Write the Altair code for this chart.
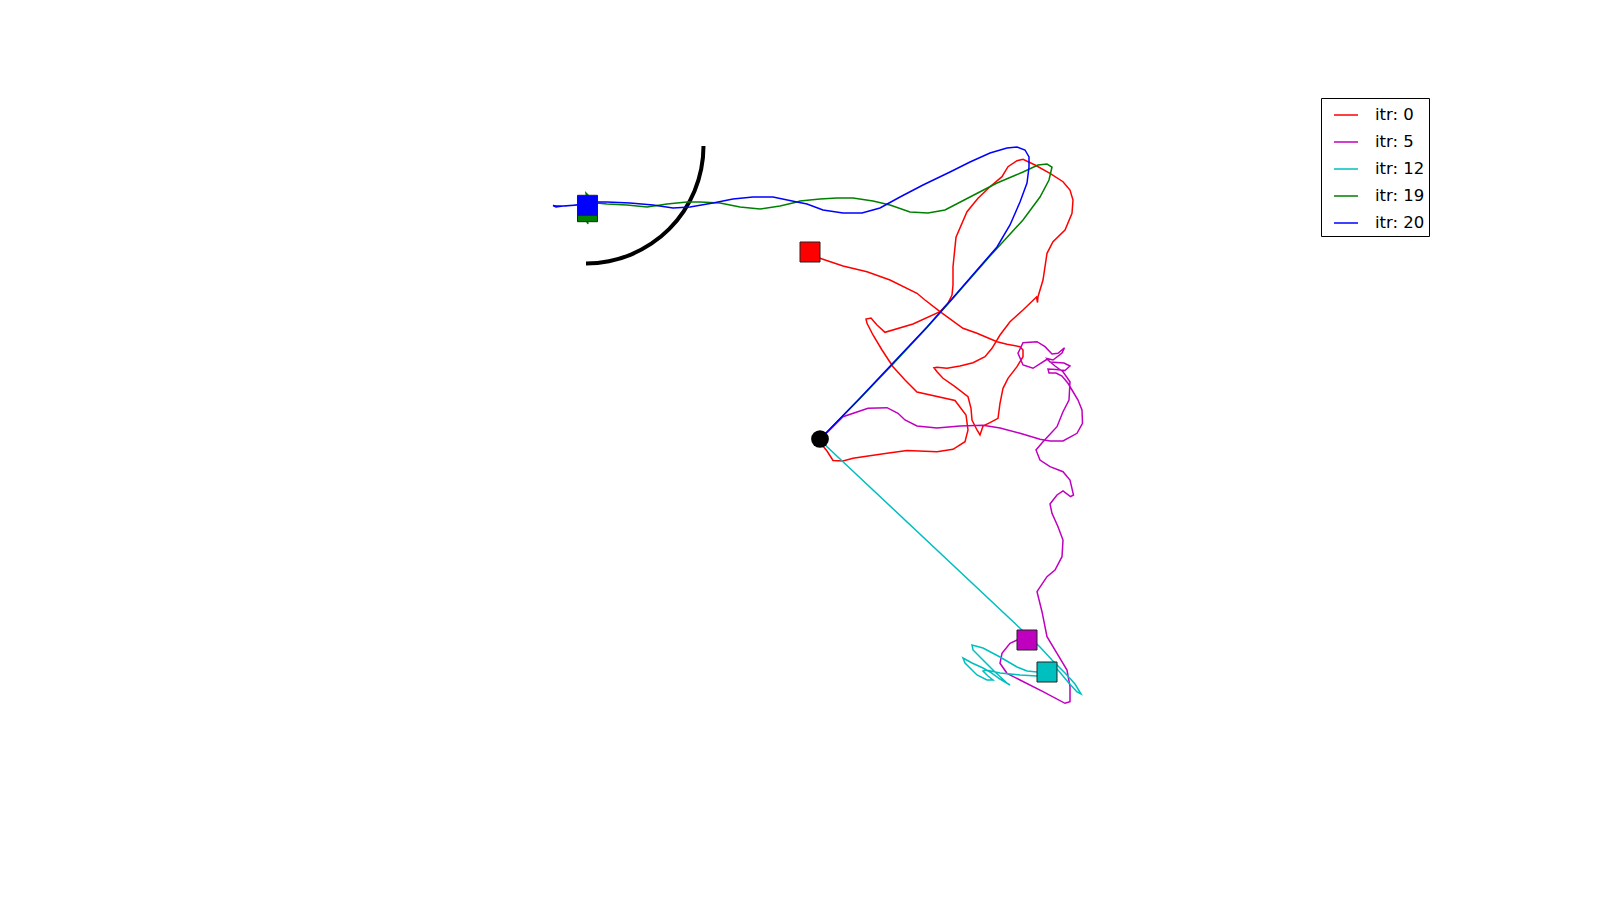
import math
import altair as alt
import pandas as pd

# ---- data (plot units = figure pixels, y downward) ----
series_names = ["itr: 0", "itr: 5", "itr: 12", "itr: 19", "itr: 20"]
series_colors = ["#ff0000", "#bf00bf", "#00bfbf", "#008000", "#0000ff"]

red_x = [820, 823, 827, 833, 843, 853, 863, 887, 907, 937, 953, 965, 968, 966, 955, 917, 905, 893,
         882, 873, 867, 866, 871, 877, 885, 913, 940, 948, 952, 953, 953, 956, 967, 978, 990, 1002,
         1008, 1017, 1023, 1035, 1050, 1063, 1070, 1073, 1072, 1065, 1053, 1047, 1043, 1038, 1037.5,
         1036.5, 1023, 1010, 1000, 992, 985, 973, 960, 947, 937, 934, 937, 943, 955, 968, 971, 972,
         977, 980, 983, 990, 998, 1000, 1003, 1008, 1017, 1023, 1023, 1020, 1007, 997, 977, 963, 940,
         925, 917, 890, 867, 843, 820, 810]
red_y = [439, 446, 451, 460.5, 461, 458.3, 456.7, 453.3, 450.5, 451.7, 449.3, 441.7, 430, 415, 400.5,
         392, 380, 366.7, 350, 335, 323.3, 319, 318, 325, 332.3, 324, 311.7, 303, 295, 285, 266.7, 237.3,
         211.7, 198.3, 186.7, 176.7, 166.7, 160.7, 159.3, 165, 173.3, 181.7, 190, 200, 213.3, 230, 241.7,
         253.3, 280, 296.7, 302.5, 297, 310, 321.7, 335, 348.3, 356.7, 362.7, 366, 368.3, 367.3, 367.7,
         371.7, 378.3, 386.7, 396.7, 408.3, 420, 430, 435, 426, 422.7, 418.3, 403.3, 388.3, 378.3,
         366.7, 356.7, 350, 346.7, 344.3, 341.7, 333.3, 328.3, 311.7, 300, 293.3, 280, 271.7, 266,
         258.3, 252]

mag_x = [820, 828, 843, 868, 887, 898, 905, 917, 937, 960, 983, 1000, 1020, 1040, 1050, 1063, 1077,
         1082.5, 1082, 1078, 1072, 1068, 1062, 1056, 1049, 1048, 1056, 1065, 1070, 1064, 1050, 1047,
         1053, 1062, 1064.5, 1058, 1052, 1045, 1037, 1023, 1018, 1023, 1033, 1047, 1055, 1063, 1070,
         1069, 1063, 1057, 1043, 1036, 1040, 1050, 1063, 1070, 1073.5, 1070.5, 1063, 1057, 1050,
         1052, 1058, 1063, 1062, 1055, 1047, 1037, 1042, 1047, 1057, 1067, 1070, 1070, 1065, 1043,
         1020, 1007, 1000, 1002, 1010, 1017, 1027]
mag_y = [439, 431.7, 416.7, 408.3, 407.7, 413.3, 420, 426, 428, 426, 425.3, 428, 433.3, 439.3, 441,
         441, 433.3, 423.3, 410, 400, 390, 383.3, 376, 373, 373, 369, 369.5, 370.5, 366, 363, 362,
         358.5, 360, 353, 347.7, 353.3, 354, 346.7, 341.7, 342.7, 353.3, 365, 368.3, 359.3, 366, 371.7,
         381.7, 400, 411.7, 426.7, 441.7, 450, 460, 466.7, 471.7, 480, 495, 496.7, 491, 495, 504, 513.3,
         526.7, 540, 556.7, 570, 576.7, 591.7, 611.7, 636.7, 653.3, 670, 686.7, 701.7, 703.3, 691.7,
         680, 673.3, 663.3, 653.3, 643.3, 640, 640]

cyan_x = [820, 827, 1040, 1052, 1065, 1075, 1081, 1077, 1068, 1058, 1050, 1055, 1047, 1037, 1027,
          1017, 1000, 983, 972, 973, 983, 995, 1007, 1010, 1000, 990, 983, 972, 963, 965, 977, 987,
          993, 988, 983, 986, 1000, 1020, 1037, 1047]
cyan_y = [439, 446.7, 647, 660, 673, 684, 694, 692, 682, 670, 664, 662, 666, 672, 671, 667, 657, 648,
          645, 650, 660, 672, 683, 685, 679, 672, 668, 663, 658, 663, 675, 680, 680, 676, 671, 670, 673,
          675, 676, 672]

green_x = [820, 827, 860, 893, 927, 951, 990, 1023, 1040, 1049, 1052, 1047, 1038, 1023, 997, 970,
           945, 928, 910, 890, 873, 853, 837, 820, 800, 797, 780, 760, 740, 720, 700, 687, 667, 647,
           627, 607, 597, 590, 587, 587, 588, 586, 587, 586, 588, 587]
green_y = [439, 432, 398.5, 364, 327.5, 300.5, 256, 220, 197, 180, 167, 164, 165, 172, 183, 197, 210,
           213, 212, 205, 201, 198, 198, 199, 201, 202, 206, 209, 207, 203, 202, 202, 204, 207, 205, 204,
           203, 207, 212, 222, 224, 214, 200, 193, 195, 211]

blue_x = [820, 827, 860, 893, 927, 951, 977, 997, 1010, 1020, 1027, 1029, 1029, 1025, 1017, 1007,
          990, 970, 950, 923, 900, 880, 862, 843, 823, 807, 797, 773, 753, 733, 713, 690, 673, 653,
          630, 607, 597, 587, 577, 565, 556, 553, 556, 563, 570, 577]
blue_y = [439, 432, 398, 363, 327, 300, 270, 247, 225, 202, 183, 167, 157, 150, 147, 148, 153, 162,
          172, 185, 197, 208, 213, 213, 210, 204, 202, 197, 197, 199, 203, 207, 208, 205, 203, 202, 202,
          205, 205, 206, 206, 205.5, 207, 206, 205.5, 205]

# final positions (squares), drawn after the paths
end_series = ["itr: 0", "itr: 5", "itr: 12", "itr: 19", "itr: 20"]
end_x = [810, 1027, 1047, 587.5, 587.5]
end_y = [252, 640, 672, 211.7, 205.3]

start_x = [820]
start_y = [439]

goal_x = [586]
goal_y = [146]

# ---- tables ----
paths = {
    "itr: 0": (red_x, red_y),
    "itr: 5": (mag_x, mag_y),
    "itr: 12": (cyan_x, cyan_y),
    "itr: 19": (green_x, green_y),
    "itr: 20": (blue_x, blue_y),
}
rows = []
for name, (xs, ys) in paths.items():
    for i, (xv, yv) in enumerate(zip(xs, ys)):
        rows.append({"series": name, "x": xv, "y": yv, "i": i})
df = pd.DataFrame(rows)
ends = pd.DataFrame({"series": end_series, "x": end_x, "y": end_y})
start = pd.DataFrame({"x": start_x, "y": start_y})
goal = pd.DataFrame({"x": goal_x, "y": goal_y})

W, H = 1600, 900
xs = alt.Scale(domain=[0, W], nice=False, zero=False)
ys = alt.Scale(domain=[0, H], nice=False, zero=False, reverse=True)
X = alt.X("x:Q", scale=xs, axis=None)
Y = alt.Y("y:Q", scale=ys, axis=None)

legend = alt.Legend(
    title=None, orient="none", legendX=1321, legendY=98,
    strokeColor="black", fillColor="white", padding=4, cornerRadius=0,
    symbolType="stroke", symbolSize=576, symbolStrokeWidth=1.5,
    symbolOffset=8, labelOffset=16, rowPadding=5,
    labelFont="DejaVu Sans", labelFontSize=16.5, labelColor="black",
)
color = alt.Color("series:N", scale=alt.Scale(domain=series_names, range=series_colors), legend=legend)

layers = []
for name in series_names:
    layers.append(
        alt.Chart(df).transform_filter(alt.datum.series == name)
        .mark_line(strokeWidth=1.5, clip=False)
        .encode(x=X, y=Y, order="i:Q", color=color)
    )

arc = alt.Chart(goal).mark_arc(
    color="black", radius=115.5, radius2=119.5, theta=math.pi / 2, theta2=math.pi
).encode(x=X, y=Y)

squares = alt.Chart(ends).mark_square(size=400, stroke="#222222", strokeWidth=1, opacity=1, filled=True).encode(
    x=X, y=Y,
    fill=alt.Fill("series:N", scale=alt.Scale(domain=series_names, range=series_colors), legend=None),
)
circle = alt.Chart(start).mark_circle(size=314, color="black", opacity=1).encode(x=X, y=Y)

chart = alt.layer(arc, *layers, squares, circle).properties(
    width=W, height=H, padding=0, autosize=alt.AutoSizeParams(type="none"),
    background="white",
).configure_view(stroke=None)

chart.save("out.html", embed_options={"renderer": "svg", "actions": False})
